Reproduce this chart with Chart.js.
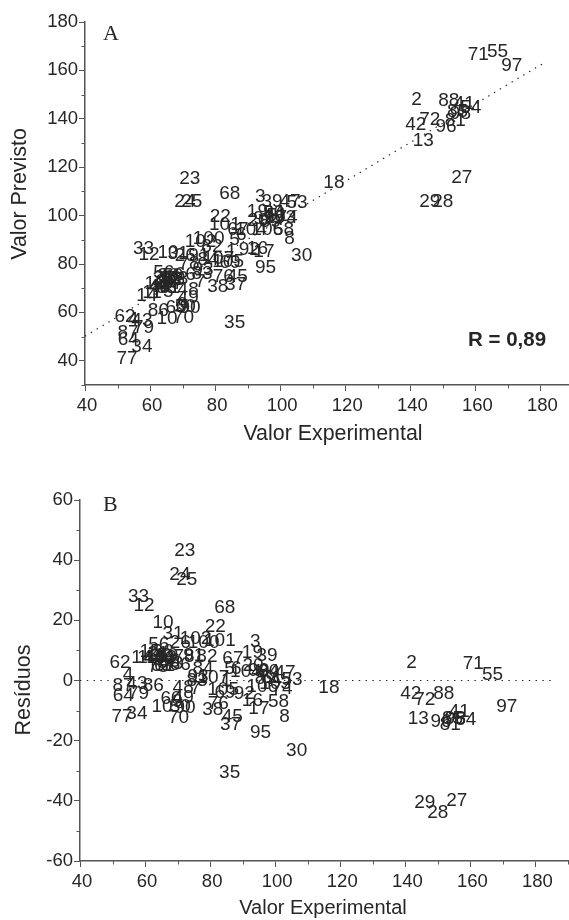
<!DOCTYPE html>
<html><head><meta charset="utf-8">
<style>html,body{margin:0;padding:0;background:#fff;width:569px;height:920px;overflow:hidden}
canvas{position:absolute;left:0}</style>
<script src="https://cdn.jsdelivr.net/npm/chart.js@4"></script></head>
<body>
<canvas id="a" style="top:0"></canvas>
<canvas id="b" style="top:450px"></canvas>
<script>
const pointIds=[71,55,97,2,88,42,72,13,96,41,54,85,98,81,27,29,28,
23,24,25,68,3,39,53,18,22,19,74,58,8,30,95,35,45,37,38,33,12,10,31,56,26,102,101,
62,4,43,87,64,79,77,34,70,10,50,86,48,49,9,60,90,14,11,44,15,46,17,20,21,32,36,40,52,57,59,61,63,65,66,73,75,78,91,
89,84,93,7,76,67,82,83,92,99,6,5,1,69,47,94,16,51,80,100,103,104,105,106,107];
const experimental=[160.9,166.8,171.2,141.9,151.8,141.7,146,144,151,156.6,158.6,154.5,155.4,153.8,155.8,146,150,
72.2,70.7,72.8,84.5,93.9,97.5,105.2,116.5,81.6,93,102.1,101,102.9,106.6,95.5,86,86.8,86.3,80.8,58,59.7,65.5,68.6,64.2,70.8,75.5,83,
52.3,54.8,57.5,53.2,53.3,58,52.9,57.5,70.3,65.2,70.8,62.5,71.7,71.7,70,68,72.3,59,60.6,63,61.5,62.8,95,93.2,64,65,65.5,66,66.5,67,67,66,65,67.5,70.8,68.5,64,72,75,
97,77.8,76.3,75.4,82.5,87,79,76,90.5,95,88,86,85,84.6,103,98,93,99,98,78,100,91,84,96,81];
const predicted=[166.4,167.6,162,147.8,147.4,137.4,139.7,131,136.6,146.3,144.5,143,142,139,115.5,105.6,105.6,
115.1,105.6,105.6,109,107.7,105.6,105.2,113.5,99.4,101.5,99,94,90.3,83.3,78.3,55.6,74.6,71.3,70.5,86.2,83.7,84.5,84.2,76.5,83.4,89.3,96.3,
58,56.8,56.5,51.5,48.5,53.8,41,46,57.7,57.2,62.2,60.8,69.3,66,63,62,62,67,68,70.5,72,70.5,85,98,74,72.5,75,73,74,72,75,70,70,73.5,75.5,74,68.5,80,83.5,
97.5,81.8,77.5,72.6,74.6,94,87,76,86,98.5,92,90,85,80.6,105.6,101,86.4,100,101,90.5,99,94,81,94,82];
const residuals=[5.6,2,-8.6,6,-4.3,-4.3,-6.3,-12.6,-13.6,-10.3,-13,-12.6,-12.6,-14.8,-40,-40.5,-44,
43,35,33.5,24.3,13,8.3,0.3,-2.3,18,9.3,-2.6,-7,-12,-23.3,-17.3,-30.6,-12,-14.6,-9.6,27.9,25,19.3,15.6,12,12.6,13.8,13.3,
6,2,-1,-1.7,-5,-4.3,-12,-11,-12.3,-8.6,-8.6,-1.7,-2.4,-5.7,-7,-6,-9,7.6,7.6,7.5,9.5,7.7,-9.3,5,8.8,8.3,9.5,7.3,7.5,6,8.3,5,4.8,6.2,5.3,5.5,4.5,8,8.3,
0.5,4,1.2,-2.8,-7.6,7.3,8,-0.2,-4.5,3.3,4,4,0,-4,2.6,3,-6.6,1,3,12.5,-1,3,-3,-2,1];
const fitX=[40,181], fitPredicted=[50.2,163];
const zeroX=[40,185], zeroY=[0,0];
const xTicksRange=[40,190];
const predictedRange=[30,180], residualRange=[-60,60];
const SANS='"Liberation Sans", Arial, sans-serif', INK='#262626', AXIS='#555';

const deco={id:'deco',
 afterDraw(c,args,o){
  const g=c.ctx; g.save();
  g.strokeStyle=AXIS; g.lineWidth=1;
  const X=c.scales.x,Y=c.scales.y;
  X.ticks.forEach(t=>{ if(t.value%20!==0){const p=Math.round(X.getPixelForValue(t.value))+.5; g.beginPath(); g.moveTo(p,X.top); g.lineTo(p,X.top+3.5); g.stroke();}});
  Y.ticks.forEach(t=>{ if(t.value%20!==0){const p=Math.round(Y.getPixelForValue(t.value))+.5; g.beginPath(); g.moveTo(Y.right,p); g.lineTo(Y.right-3.5,p); g.stroke();}});
  g.fillStyle=INK; g.font='19px '+SANS; g.textAlign='center'; g.textBaseline='middle';
  c.getDatasetMeta(0).data.forEach((el,i)=>g.fillText(String(pointIds[i]),el.x,el.y));
  g.font='22px "Liberation Serif", serif'; g.textAlign='left'; g.textBaseline='alphabetic';
  g.fillText(o.panel,o.panelX,o.panelY);
  if(o.note){g.font='bold 20.5px '+SANS; g.fillText(o.note,o.noteX,o.noteY);}
  g.textAlign='center'; g.textBaseline='middle';
  g.font=o.xFont+' '+SANS; g.fillText(o.xTitle,o.xTitleX,o.xTitleY);
  g.translate(o.yTitleX,o.yTitleY); g.rotate(-Math.PI/2);
  g.font=o.yFont+' '+SANS; g.fillText(o.yTitle,0,0);
  g.restore();
 }};

function build(id,w,h,yVals,yRange,lineX,lineY,pad,axisW,axisH,decoOpts){
 const el=document.getElementById(id); el.width=w; el.height=h; el.style.width=w+'px'; el.style.height=h+'px';
 const tickFmt=v=>v%20===0?String(v):'';
 const gridOpts={display:true,drawOnChartArea:false,drawTicks:true,tickLength:6,tickWidth:1,
   tickColor:ctx=>(ctx.tick&&ctx.tick.value%20===0)?AXIS:'rgba(0,0,0,0)'};
 new Chart(el,{type:'scatter',plugins:[deco],
  data:{datasets:[
   {data:experimental.map((x,i)=>({x,y:yVals[i]})),pointRadius:0,showLine:false},
   {data:lineX.map((x,i)=>({x,y:lineY[i]})),type:'line',pointRadius:0,borderColor:'#222',borderWidth:1.2,borderDash:[1.4,5.4],fill:false}
  ]},
  options:{responsive:false,animation:false,
   layout:{padding:pad},
   plugins:{legend:{display:false},tooltip:{enabled:false},deco:decoOpts},
   scales:{
    x:{type:'linear',min:xTicksRange[0],max:xTicksRange[1],grid:gridOpts,border:{color:AXIS,width:1.5},
       afterFit(s){s.height=axisH;s.paddingRight=0;s.paddingLeft=0;},
       ticks:{stepSize:10,autoSkip:false,maxRotation:0,padding:4,labelOffset:2,color:INK,font:{family:SANS,size:18.5},callback:tickFmt}},
    y:{type:'linear',min:yRange[0],max:yRange[1],grid:gridOpts,border:{color:AXIS,width:1.5},
       afterFit(s){s.width=axisW;},
       ticks:{stepSize:10,autoSkip:false,padding:1,color:INK,font:{family:SANS,size:18.5},callback:tickFmt}}
   }}});
}
build('a',573,450,predicted,predictedRange,fitX,fitPredicted,{top:22,left:0,right:0,bottom:0},85,65,
 {panel:'A',panelX:103,panelY:40,note:'R = 0,89',noteX:468,noteY:346,
  xTitle:'Valor Experimental',xTitleX:333,xTitleY:434,xFont:'21.4px',
  yTitle:'Valor Previsto',yTitleX:20,yTitleY:194,yFont:'21.4px'});
build('b',569,470,residuals,residualRange,zeroX,zeroY,{top:50,left:0,right:1,bottom:0},80,59,
 {panel:'B',panelX:103,panelY:61,
  xTitle:'Valor Experimental',xTitleX:323,xTitleY:458,xFont:'20px',
  yTitle:'Resíduos',yTitleX:24,yTitleY:240,yFont:'21.5px'});
</script>
</body></html>
